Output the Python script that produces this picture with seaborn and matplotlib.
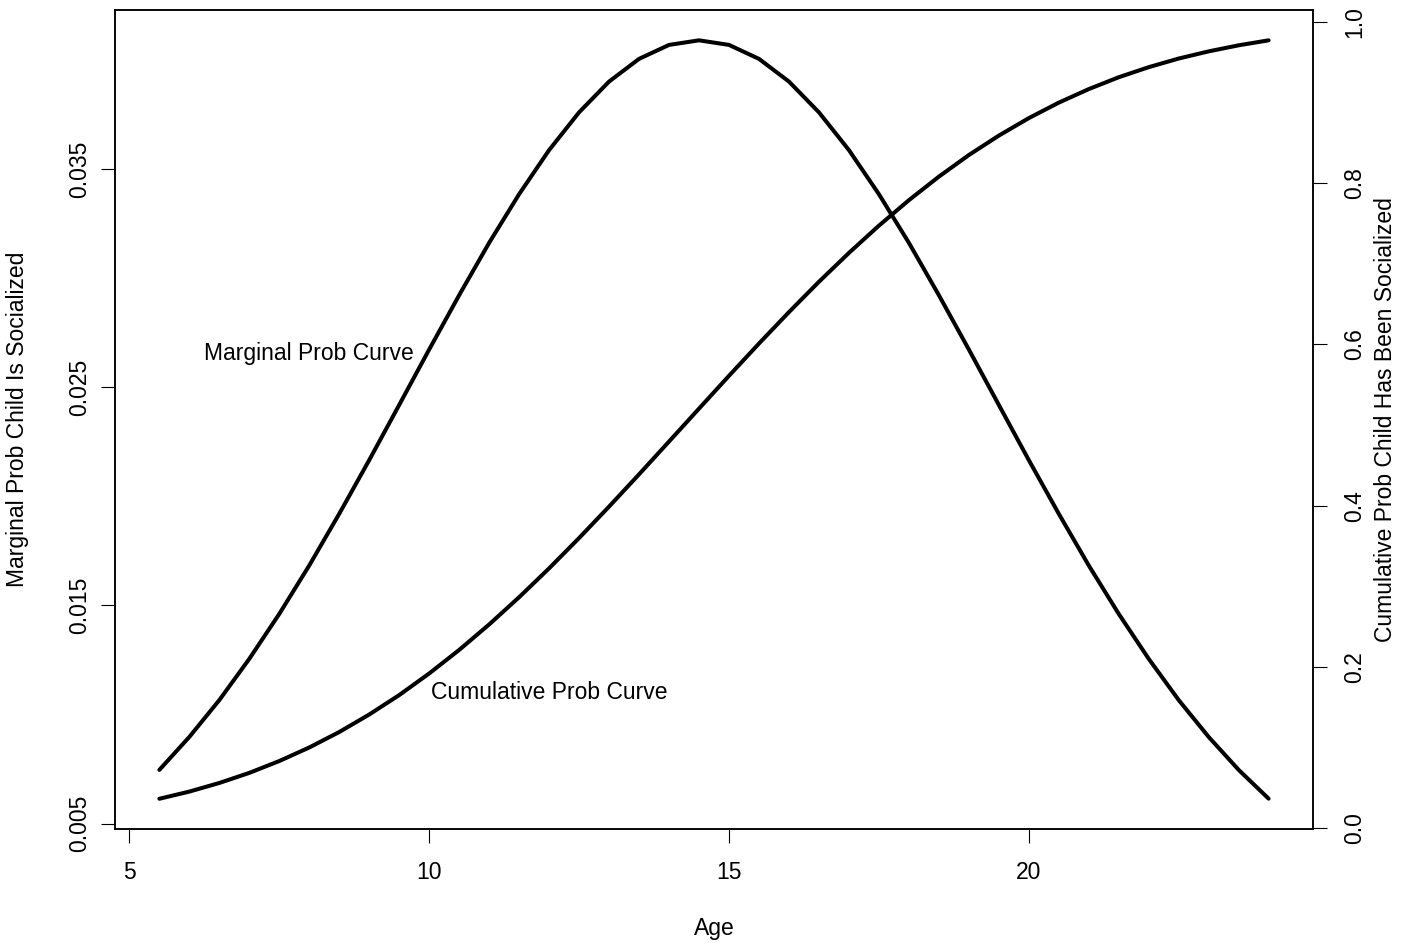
import matplotlib
matplotlib.use("Agg")
import matplotlib.pyplot as plt
import pandas as pd
import seaborn as sns

age = [5.5, 6.0, 6.5, 7.0, 7.5, 8.0, 8.5, 9.0, 9.5, 10.0,
       10.5, 11.0, 11.5, 12.0, 12.5, 13.0, 13.5, 14.0, 14.5, 15.0,
       15.5, 16.0, 16.5, 17.0, 17.5, 18.0, 18.5, 19.0, 19.5, 20.0,
       20.5, 21.0, 21.5, 22.0, 22.5, 23.0, 23.5, 24.0]

marginal = [0.00746, 0.00897, 0.01066, 0.01255, 0.01461, 0.01683, 0.01920, 0.02166, 0.02419, 0.02673,
            0.02922, 0.03162, 0.03385, 0.03587, 0.03760, 0.03901, 0.04005, 0.04069, 0.04090, 0.04069,
            0.04005, 0.03901, 0.03760, 0.03587, 0.03385, 0.03162, 0.02922, 0.02673, 0.02419, 0.02166,
            0.01920, 0.01683, 0.01461, 0.01255, 0.01066, 0.00897, 0.00746, 0.00614]

cumulative = [0.0365, 0.0454, 0.0561, 0.0686, 0.0833, 0.1001, 0.1193, 0.1410, 0.1651, 0.1919,
              0.2211, 0.2527, 0.2865, 0.3223, 0.3599, 0.3989, 0.4389, 0.4796, 0.5204, 0.5611,
              0.6011, 0.6401, 0.6777, 0.7135, 0.7473, 0.7789, 0.8081, 0.8349, 0.8590, 0.8807,
              0.8999, 0.9167, 0.9314, 0.9439, 0.9546, 0.9635, 0.9710, 0.9772]

x_ticks = [5, 10, 15, 20]
left_ticks = [0.005, 0.015, 0.025, 0.035]
left_tick_labels = ["0.005", "0.015", "0.025", "0.035"]
right_ticks = [0.0, 0.2, 0.4, 0.6, 0.8, 1.0]
right_tick_labels = ["0.0", "0.2", "0.4", "0.6", "0.8", "1.0"]

sns.set_style("white")
plt.rcParams['font.family'] = ['Liberation Sans', 'DejaVu Sans']
plt.rcParams['text.color'] = 'black'
plt.rcParams['axes.labelcolor'] = 'black'
plt.rcParams['xtick.color'] = 'black'
plt.rcParams['ytick.color'] = 'black'

FS = 16.5
W, H = 1405, 948
fig = plt.figure(figsize=(W / 100, H / 100), dpi=100)
fig.patch.set_facecolor("white")
ax = fig.add_axes([115 / W, 1 - 829 / H, (1313 - 115) / W, (829 - 10) / H])

df = pd.DataFrame({"Age": age, "Marginal": marginal, "Cumulative": cumulative})

sns.lineplot(data=df, x="Age", y="Marginal", ax=ax, color="black", linewidth=2.9)
ax2 = ax.twinx()
sns.lineplot(data=df, x="Age", y="Cumulative", ax=ax2, color="black", linewidth=2.9)

ax.set_xlim(4.76, 24.74)
ax.set_ylim(0.00475, 0.04229)
ax2.set_ylim(-0.001, 1.0148)

ax.set_xticks(x_ticks)
ax.set_xticklabels([str(t) for t in x_ticks])
ax.set_yticks(left_ticks)
ax.set_yticklabels(left_tick_labels, rotation=90, va="center")
ax2.set_yticks(right_ticks)
ax2.set_yticklabels(right_tick_labels, rotation=90, va="center")

for a in (ax, ax2):
    for s in a.spines.values():
        s.set_visible(True)
        s.set_color("black")
        s.set_linewidth(1.1)
    a.grid(False)

ax.tick_params(axis="x", direction="out", length=10, width=0.8, colors="black",
               labelsize=FS, pad=13, bottom=True)
ax.tick_params(axis="y", direction="out", length=10, width=0.8, colors="black",
               labelsize=FS, pad=7.5, left=True)
ax2.tick_params(axis="y", direction="out", length=10, width=0.8, colors="black",
                labelsize=FS, pad=12, right=True)

ax.set_xlabel("Age", fontsize=FS, color="black")
ax.xaxis.set_label_coords(0.5, (829 - 928) / 819)
ax.xaxis.label.set_va("center")
ax.set_ylabel("Marginal Prob Child Is Socialized", fontsize=FS, color="black")
ax.yaxis.set_label_coords((18 - 115) / 1198, 0.5)
ax.yaxis.label.set_va("center")
ax2.set_ylabel("Cumulative Prob Child Has Been Socialized", fontsize=FS, rotation=90, color="black")
ax2.yaxis.set_label_coords((1385 - 115) / 1198, 0.5)
ax2.yaxis.label.set_va("center")

ax.text(8.0, 0.026265, "Marginal Prob Curve", ha="center", va="baseline", fontsize=FS, color="black")
ax.text(12.0, 0.010716, "Cumulative Prob Curve", ha="center", va="baseline", fontsize=FS, color="black")

fig.savefig("out.png", dpi=100, facecolor="white")
